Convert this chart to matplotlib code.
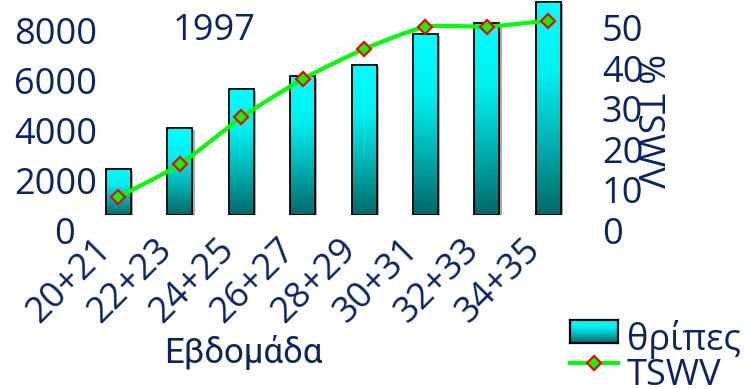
import numpy as np
import matplotlib
matplotlib.use('Agg')
import matplotlib.pyplot as plt
from matplotlib.colors import LinearSegmentedColormap
from matplotlib.transforms import ScaledTranslation
import matplotlib.patheffects as pe

weeks = ['20+21', '22+23', '24+25', '26+27', '28+29', '30+31', '32+33', '34+35']
thrips = [1830, 3470, 5050, 5560, 6000, 7230, 7670, 8530]
tswv = [4.5, 12.5, 24.1, 33.6, 41.0, 46.5, 46.5, 48.0]
left_ticks = [0, 2000, 4000, 6000, 8000]
right_ticks = [0, 10, 20, 30, 40, 50]

navy = '#0b2462'
plt.rcParams['font.family'] = ['Open Sans', 'DejaVu Sans']
plt.rcParams['font.size'] = 26

W, H = 745, 389
fig = plt.figure(figsize=(W / 100, H / 100), dpi=100)
ax = fig.add_axes([87.8 / W, 1 - 215 / H, (579 - 87.8) / W, 215 / H])
ax2 = ax.twinx()

bar_cmap = LinearSegmentedColormap.from_list('teal', ['#006868', '#00b0b0', '#00f0f0', '#00ffff'])
grad = np.linspace(0, 1, 256).reshape(-1, 1)

x = np.arange(len(weeks))
bw = 0.41
shadow = [pe.SimplePatchShadow(offset=(1.5, -1.5), shadow_rgbFace='#888888', alpha=0.7), pe.Normal()]
ax.bar(x, thrips, bw, color='#00ffff', edgecolor='none', zorder=2, path_effects=shadow)
for xi, h in zip(x, thrips):
    ax.imshow(grad, extent=[xi - bw / 2, xi + bw / 2, 0, h], origin='lower',
              cmap=bar_cmap, aspect='auto', zorder=2.5, interpolation='bilinear')
ax.bar(x, thrips, bw, facecolor='none', edgecolor='black', linewidth=1.3, zorder=3)

ax.set_xlim(-0.5, 7.5)
ax.set_ylim(0, 8600)
ax2.set_ylim(0, 53.1)

# smoothed line through the points (cardinal spline in screen space)
pts = ax2.transData.transform(np.column_stack([x, tswv]))
ext = np.vstack([pts[0], pts, pts[-1]])
t = np.linspace(0, 1, 30)[:, None]
h00 = 2 * t ** 3 - 3 * t ** 2 + 1
h10 = t ** 3 - 2 * t ** 2 + t
h01 = -2 * t ** 3 + 3 * t ** 2
h11 = t ** 3 - t ** 2
curve = []
for i in range(1, len(ext) - 2):
    p0, p1, p2, p3 = ext[i - 1], ext[i], ext[i + 1], ext[i + 2]
    m1 = 0.3 * (p2 - p0)
    m2 = 0.3 * (p3 - p1)
    curve.append(h00 * p1 + h10 * m1 + h01 * p2 + h11 * m2)
curve = ax2.transData.inverted().transform(np.vstack(curve))
ax2.plot(curve[:, 0], curve[:, 1], color='#00ff00', linewidth=3, zorder=4, solid_capstyle='round')
ax2.plot(x, tswv, linestyle='none', marker='D', markersize=7, markerfacecolor='#00ff00',
         markeredgecolor='red', markeredgewidth=1.6, zorder=5)

for a in (ax, ax2):
    for s in a.spines.values():
        s.set_visible(False)

ax.set_xticks(x, weeks, rotation=45, ha='right', va='top')
ax.set_yticks(left_ticks, [str(v) for v in left_ticks])
ax2.set_yticks(right_ticks, [str(v) for v in right_ticks])
ax.tick_params(axis='x', length=0, pad=12, labelcolor=navy, labelsize=26)
ax.tick_params(axis='y', length=0, pad=-6.5, labelcolor=navy, labelsize=26)
ax2.tick_params(axis='y', length=0, pad=16.5, labelcolor=navy, labelsize=26)

fig.text(214 / W, 1 - 31 / H, '1997', color=navy, ha='center', va='center')
fig.text(647 / W, 1 - 121 / H, '% TSWV', color=navy, ha='center', va='center', rotation=270)
fig.text(243 / W, 1 - 353 / H, 'Εβδομάδα', color=navy, ha='center', va='center',
         family=['Roboto', 'Open Sans', 'DejaVu Sans'], fontsize=25)

# legend drawn by hand
lx0, lx1 = 570 / W, 618 / W
key = fig.add_axes([lx0, 1 - 343 / H, lx1 - lx0, 23 / H])
key.imshow(grad, origin='lower', cmap=bar_cmap, aspect='auto', interpolation='bilinear')
key.set_xticks([])
key.set_yticks([])
for s in key.spines.values():
    s.set_linewidth(1.6)
    s.set_color('black')
fig.add_artist(plt.Line2D([lx0, lx1], [1 - 363 / H] * 2, transform=fig.transFigure,
                          color='#00ff00', linewidth=3))
fig.add_artist(plt.Line2D([(lx0 + lx1) / 2], [1 - 363 / H], transform=fig.transFigure,
                          linestyle='none', marker='D', markersize=7, markerfacecolor='#00ff00',
                          markeredgecolor='red', markeredgewidth=1.6))
fig.text(627 / W, 1 - 350 / H, 'θρίπες', color=navy, va='baseline')
fig.text(627 / W, 1 - 385 / H, 'TSWV', color=navy, va='baseline')

# tick labels sit a little below their positions
fig.canvas.draw()
down = ScaledTranslation(0, -0.15, fig.dpi_scale_trans)
for lbl in ax.get_yticklabels() + ax2.get_yticklabels():
    lbl.set_transform(lbl.get_transform() + down)
zero = ax.get_yticklabels()[0]
zero.set_transform(zero.get_transform() + ScaledTranslation(-0.22, 0, fig.dpi_scale_trans))

fig.savefig('out.png', dpi=100)
